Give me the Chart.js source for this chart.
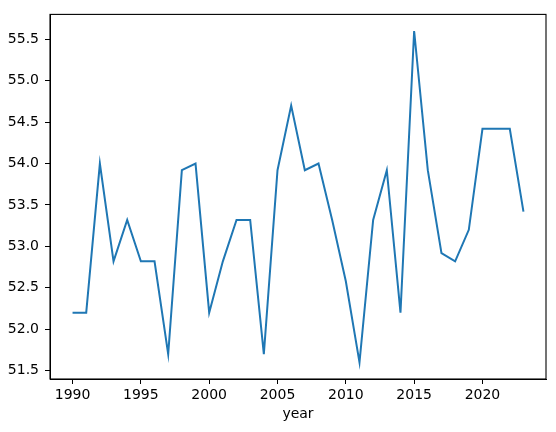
<!DOCTYPE html>
<html>
<head>
<meta charset="utf-8">
<script src="https://cdn.jsdelivr.net/npm/chart.js@4.4.1/dist/chart.umd.min.js"></script>
<style>
  html, body { margin: 0; padding: 0; background: #fff; }
  #wrap { width: 556px; height: 432px; }
</style>
</head>
<body>
<div id="wrap"><canvas id="myChart" width="556" height="432"></canvas></div>
<script>
// datos
var years = [1990, 1991, 1992, 1993, 1994, 1995, 1996, 1997, 1998, 1999,
             2000, 2001, 2002, 2003, 2004, 2005, 2006, 2007, 2008, 2009,
             2010, 2011, 2012, 2013, 2014, 2015, 2016, 2017, 2018, 2019,
             2020, 2021, 2022, 2023];
var values = [52.2, 52.2, 54.0, 52.82, 53.32, 52.82, 52.82, 51.7, 53.92, 54.0,
              52.2, 52.82, 53.32, 53.32, 51.7, 53.92, 54.7, 53.92, 54.0, 53.32,
              52.58, 51.6, 53.32, 53.92, 52.2, 55.6, 53.92, 52.92, 52.82, 53.2,
              54.42, 54.42, 54.42, 53.42];
var xTicks = [1990, 1995, 2000, 2005, 2010, 2015, 2020];
var yTicks = [51.5, 52.0, 52.5, 53.0, 53.5, 54.0, 54.5, 55.0, 55.5];
var xTitle = 'year';

// margenes tipo matplotlib (5%)
var xMin = Math.min.apply(null, years), xMax = Math.max.apply(null, years);
var yMin = Math.min.apply(null, values), yMax = Math.max.apply(null, values);
var xPad = (xMax - xMin) * 0.05, yPad = (yMax - yMin) * 0.05;

var font = { family: 'DejaVu Sans', size: 14 };

// marco completo alrededor del area del grafico
var framePlugin = {
    id: 'frame',
    afterDraw: function(chart) {
        var a = chart.chartArea, ctx = chart.ctx;
        ctx.save();
        ctx.strokeStyle = '#000';
        ctx.lineWidth = 1.1;
        ctx.strokeRect(a.left, a.top, a.right - a.left, a.bottom - a.top);
        ctx.restore();
    }
};

var ctx = document.getElementById('myChart').getContext('2d');
var myChart = new Chart(ctx, {
    type: 'line',
    data: {
        datasets: [{
            data: years.map(function(y, i) { return { x: y, y: values[i] }; }),
            borderColor: '#1f77b4',
            borderWidth: 2,
            pointRadius: 0,
            tension: 0,
            fill: false
        }]
    },
    options: {
        responsive: false,
        animation: false,
        devicePixelRatio: 1,
        layout: { padding: { left: 0, top: 9, right: 10, bottom: 0 } },
        plugins: {
            legend: { display: false },
            tooltip: { enabled: false }
        },
        scales: {
            x: {
                type: 'linear',
                min: xMin - xPad,
                max: xMax + xPad,
                afterBuildTicks: function(scale) {
                    scale.ticks = xTicks.map(function(v) { return { value: v }; });
                },
                afterFit: function(scale) { scale.height = 53; },
                grid: { drawOnChartArea: false, tickLength: 5, tickColor: '#000', tickWidth: 1 },
                border: { display: true, color: '#000', width: 1 },
                ticks: {
                    color: '#000', font: font, padding: 3, maxRotation: 0,
                    callback: function(v) { return String(v); }
                },
                title: { display: true, text: xTitle, color: '#000', font: font, padding: { top: 0, bottom: 9 } }
            },
            y: {
                type: 'linear',
                min: yMin - yPad,
                max: yMax + yPad,
                afterBuildTicks: function(scale) {
                    scale.ticks = yTicks.map(function(v) { return { value: v }; });
                },
                afterFit: function(scale) { scale.width = 50; },
                grid: { drawOnChartArea: false, tickLength: 5, tickColor: '#000', tickWidth: 1 },
                border: { display: true, color: '#000', width: 1 },
                ticks: {
                    color: '#000', font: font, padding: 6,
                    callback: function(v) { return v.toFixed(1); }
                }
            }
        }
    },
    plugins: [framePlugin]
});
</script>
</body>
</html>
